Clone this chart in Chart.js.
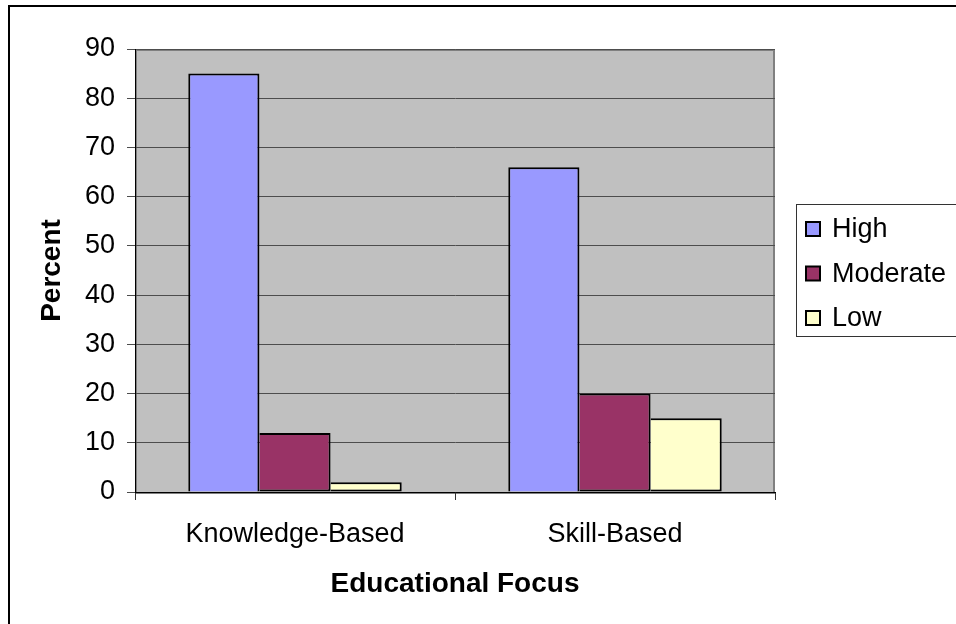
<!DOCTYPE html>
<html>
<head>
<meta charset="utf-8">
<script src="https://cdn.jsdelivr.net/npm/chart.js@4"></script>
<style>
  html, body { margin: 0; padding: 0; background: #fff; overflow: hidden; }
  canvas { display: block; }
</style>
</head>
<body>
<canvas id="grafico" width="956" height="624"></canvas>
<script>
// datos del grafico
const categorias = ['Knowledge-Based', 'Skill-Based'];
const valoresHigh = [85, 66];
const valoresModerate = [12, 20];
const valoresLow = [2, 15];
const ticksY = [0, 10, 20, 30, 40, 50, 60, 70, 80, 90];

const fuente = "'Liberation Sans', Arial, sans-serif";
Chart.defaults.font.family = fuente;
Chart.defaults.font.size = 27;
Chart.defaults.color = '#000';

// fondo gris del area de trazado, marco exterior
const fondoPlugin = {
    id: 'fondo',
    beforeDraw(chart) {
        const { ctx, chartArea } = chart;
        ctx.save();
        ctx.fillStyle = '#fff';
        ctx.fillRect(0, 0, chart.width, chart.height);
        ctx.fillStyle = '#C0C0C0';
        ctx.fillRect(chartArea.left, chartArea.top, chartArea.right - chartArea.left, chartArea.bottom - chartArea.top);
        ctx.strokeStyle = '#808080';
        ctx.lineWidth = 2;
        ctx.strokeRect(chartArea.left + 1, chartArea.top + 1, chartArea.right - chartArea.left - 2, chartArea.bottom - chartArea.top);
        ctx.restore();
    },
    afterDraw(chart) {
        const { ctx } = chart;
        ctx.save();
        ctx.strokeStyle = '#000';
        ctx.lineWidth = 2;
        ctx.beginPath();
        ctx.moveTo(9, chart.height + 5);
        ctx.lineTo(9, 6);
        ctx.lineTo(chart.width + 5, 6);
        ctx.stroke();
        ctx.restore();
    }
};

// leyenda con recuadro, a la derecha
const leyendaPlugin = {
    id: 'leyenda',
    afterDraw(chart) {
        const { ctx } = chart;
        const x = 796, y = 204, alto = 132;
        ctx.save();
        ctx.fillStyle = '#fff';
        ctx.fillRect(x, y, 200, alto);
        ctx.strokeStyle = '#333';
        ctx.lineWidth = 1;
        ctx.strokeRect(x + 0.5, y + 0.5, 200, alto);
        ctx.font = '27px ' + fuente;
        ctx.textBaseline = 'middle';
        chart.data.datasets.forEach((ds, i) => {
            const cy = 229 + i * 44.5;
            ctx.fillStyle = ds.backgroundColor;
            ctx.fillRect(806, cy - 7, 14, 14);
            ctx.strokeStyle = '#000';
            ctx.lineWidth = 2;
            ctx.strokeRect(806, cy - 7, 14, 14);
            ctx.fillStyle = '#000';
            ctx.fillText(ds.label, 832, cy + 1);
        });
        ctx.restore();
    }
};

const ctx = document.getElementById('grafico').getContext('2d');
new Chart(ctx, {
    type: 'bar',
    data: {
        labels: categorias,
        datasets: [
            { label: 'High', data: valoresHigh, backgroundColor: '#9999FF', borderColor: '#000', borderWidth: 2 },
            { label: 'Moderate', data: valoresModerate, backgroundColor: '#993366', borderColor: '#000', borderWidth: 2, borderSkipped: 'left' },
            { label: 'Low', data: valoresLow, backgroundColor: '#FFFFCC', borderColor: '#000', borderWidth: 2, borderSkipped: 'left' }
        ]
    },
    options: {
        responsive: false,
        animation: false,
        devicePixelRatio: 1,
        layout: { padding: { top: 49, right: 181, left: 0, bottom: 0 } },
        datasets: { bar: { categoryPercentage: 0.667, barPercentage: 1 } },
        plugins: {
            legend: { display: false },
            tooltip: { enabled: false }
        },
        scales: {
            x: {
                afterFit: (scale) => { scale.height = 132; },
                grid: { drawOnChartArea: false, color: '#333', tickLength: 8, offset: true },
                border: { color: '#000', width: 1 },
                ticks: { padding: 18, font: { size: 27 }, maxRotation: 0 },
                title: {
                    display: true,
                    text: 'Educational Focus',
                    font: { size: 28, weight: 'bold' },
                    padding: { top: 0, bottom: 23 }
                }
            },
            y: {
                min: 0,
                max: 90,
                afterFit: (scale) => { scale.width = 135; },
                afterBuildTicks: (scale) => { scale.ticks = ticksY.map(v => ({ value: v })); },
                grid: { color: '#4d4d4d', tickLength: 8 },
                border: { color: '#000', width: 1 },
                ticks: { padding: 12, font: { size: 27 } },
                title: {
                    display: true,
                    text: 'Percent',
                    font: { size: 28, weight: 'bold' },
                    padding: { top: 35, bottom: 0 }
                }
            }
        }
    },
    plugins: [fondoPlugin, leyendaPlugin]
});
</script>
</body>
</html>
